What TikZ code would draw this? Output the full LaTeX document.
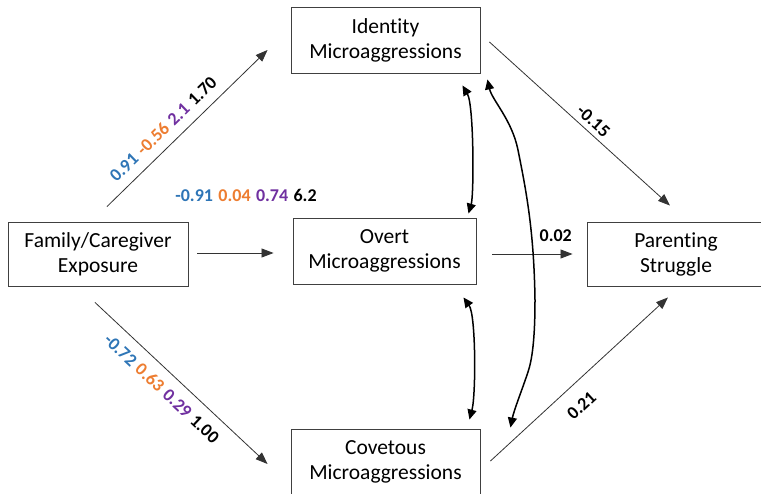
\documentclass[tikz,border=0pt]{standalone}
\usepackage{fontspec}
\setmainfont{Carlito}[Ligatures=NoCommon]
\usetikzlibrary{arrows.meta,calc}
\definecolor{cblue}{HTML}{2E75B6}
\definecolor{corange}{HTML}{ED7D31}
\definecolor{cpurple}{HTML}{7030A0}
\newcommand\cgap{\hspace{0.3em}}

\begin{document}
\begin{tikzpicture}[x=1pt,y=-1pt,
  box/.style={draw=black!75, line width=0.9pt, inner sep=0pt, align=center,
    font=\fontsize{21.5}{25}\selectfont},
  effect/.style={draw=black!80, line width=0.8pt, -{Triangle[length=12pt,width=9pt]}},
  corr/.style={draw=black, line width=1.5pt,
    {Triangle[length=10pt,width=9pt]}-{Triangle[length=10pt,width=9pt]}},
  coef/.style={font=\fontsize{18}{20}\selectfont\bfseries, inner sep=0pt},
]
\useasboundingbox (0,0) rectangle (761,494);

% variables
\node[box, minimum width=180pt, minimum height=64pt] (fam) at (98,254) {Family/Caregiver\\Exposure};
\node[box, minimum width=189pt, minimum height=66pt] (idn) at (385.5,40) {Identity\\Microaggressions};
\node[box, minimum width=183pt, minimum height=66pt] (ovt) at (384.5,251) {Overt\\Microaggressions};
\node[box, minimum width=189pt, minimum height=66pt] (cov) at (385.5,462) {Covetous\\Microaggressions};
\node[box, minimum width=178pt, minimum height=64pt] (par) at (676,254) {Parenting\\Struggle};

% paths from exposure to the three mediators
\draw[effect] ($(fam.north)+(9,-15)$) -- ($(idn.west)+(-23,10)$)
  node[coef, sloped, pos=0.42, above=9.7pt]
  {\textcolor{cblue}{0.91}\cgap\textcolor{corange}{-0.56}\cgap\textcolor{cpurple}{2.1}\cgap 1.70};
\draw[effect] ($(fam.east)+(9,-1)$) -- ($(ovt.west)+(-19,2)$);
\node[coef] (ovtcoef) at (246,195.5)
  {\textcolor{cblue}{-0.91}\cgap\textcolor{corange}{0.04}\cgap\textcolor{cpurple}{0.74}\cgap 6.2};
\draw[effect] ($(fam.south)+(-3,16)$) -- ($(cov.west)+(-23,2)$)
  node[coef, sloped, pos=0.455, below=10.5pt]
  {\textcolor{cblue}{-0.72}\cgap\textcolor{corange}{0.63}\cgap\textcolor{cpurple}{0.29}\cgap 1.00};

% paths from the mediators to the outcome
\draw[effect] ($(idn.east)+(9,2)$) -- ($(par.north)+(-6,-16)$)
  node[coef, sloped, pos=0.535, above=4.8pt] {-0.15};
\draw[effect] ($(ovt.east)+(16,3)$) -- ($(par.west)+(-14,0)$)
  node[coef, pos=0.79, above=12.3pt] {0.02};
\draw[effect] ($(cov.east)+(10,-1)$) -- ($(par.south)+(-8,11)$)
  node[coef, sloped, pos=0.433, below=14.6pt] {0.21};

% covariances between the mediators
\coordinate (a1) at ($(idn.south east)+(-18,12)$);
\coordinate (a2) at ($(ovt.north east)+(-8,-4)$);
\draw[corr] (a1) .. controls (474,105) and (474,195) .. (a2);

\coordinate (c1) at ($(ovt.south east)+(-13,13)$);
\coordinate (c2) at ($(cov.north east)+(-11,-9)$);
\draw[corr] (c1) .. controls (476,315) and (476,395) .. (c2);

\coordinate (b1) at ($(idn.south east)+(7,6)$);
\coordinate (b2) at ($(cov.north east)+(30,-1)$);
\draw[corr] (b1) .. controls (492,100) and (512,120) .. (518,150)
  .. controls (526,190) and (534,230) .. (535,300)
  .. controls (535,340) and (532,360) .. (528,372)
  .. controls (522,390) and (514,410) .. (b2);
\end{tikzpicture}
\end{document}
